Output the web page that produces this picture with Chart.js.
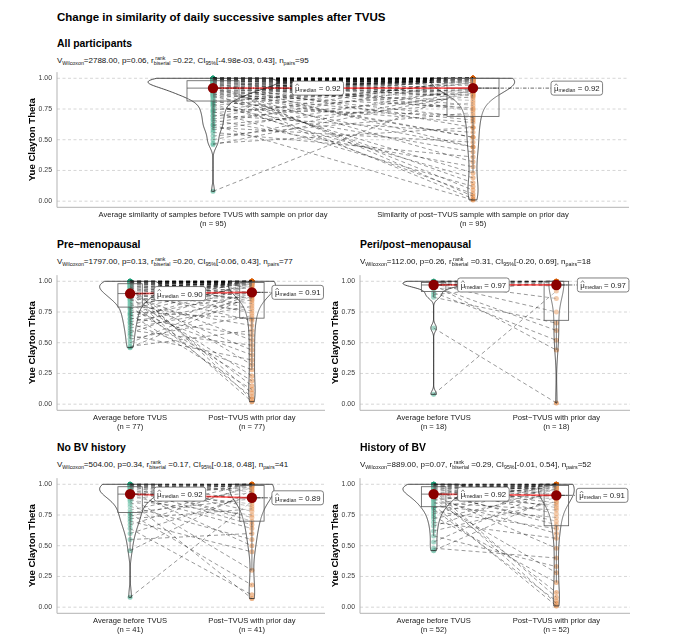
<!DOCTYPE html>
<html>
<head>
<meta charset="utf-8">
<script src="https://cdn.jsdelivr.net/npm/chart.js@4.4.0/dist/chart.umd.min.js"></script>
<style>
  body { margin: 0; background: #fff; width: 680px; height: 644px; position: relative; overflow: hidden;
         font-family: "Liberation Sans", Arial, sans-serif; }
  .t { position: absolute; white-space: nowrap; color: #000; line-height: 1.2; }
  .main { font-weight: bold; font-size: 11.5px; }
  .sub { font-weight: bold; font-size: 10.4px; }
  .stat { font-size: 8px; line-height: 10px; color: #111; }
  .stat sub { font-size: 5.3px; vertical-align: -2px; line-height: 0; }
  .stk { display: inline-block; vertical-align: -2px; font-size: 5.3px; line-height: 5.3px; }
  .stk span { display: block; }
  canvas { position: absolute; }
</style>
</head>
<body>
<div class="t main" style="left:57px;top:11px">Change in similarity of daily successive samples after TVUS</div>
<script>
// ---- data ----
const panelTitles = ["All participants", "Pre−menopausal", "Peri/post−menopausal", "No BV history", "History of BV"];
const catsShort = ["Average before TVUS", "Post−TVUS with prior day"];
const catsLong = ["Average similarity of samples before TVUS with sample on prior day",
                  "Similarity of post−TVUS sample with sample on prior day"];
const yTicks = [0, 0.25, 0.5, 0.75, 1];

const wilcoxonV = ["2788.00", "1797.00", "112.00", "504.00", "889.00"];
const pValues = ["0.06", "0.13", "0.26", "0.34", "0.07"];
const rValues = ["0.22", "0.20", "0.31", "0.17", "0.29"];
const ciText = ["[-4.98e-03, 0.43]", "[-0.06, 0.43]", "[-0.20, 0.69]", "[-0.18, 0.48]", "[-0.01, 0.54]"];

// pairs: before[i] goes with after[i]
const preBefore = [0.46,0.47,0.50,0.53,0.56,0.58,0.60,0.62,0.64,0.66,0.67,0.69,0.70,0.72,0.73,0.74,0.75,0.77,0.78,
  0.79,0.80,0.81,0.82,0.83,0.84,0.85,0.85,0.86,0.86,0.87,0.87,0.88,0.88,0.89,0.89,0.89,0.90,0.90,0.90,
  0.91,0.91,0.92,0.92,0.93,0.93,0.94,0.94,0.94,0.95,0.95,0.95,0.96,0.96,0.96,0.97,0.97,0.97,0.98,0.98,0.98,0.98,
  0.99,0.99,0.99,0.99,0.99,0.99,1.00,1.00,1.00,1.00,1.00,1.00,1.00,1.00,1.00,1.00];
const preAfter = [0.88,0.60,0.90,0.72,0.36,0.92,0.48,0.80,0.97,0.28,0.85,0.99,0.56,0.89,0.12,0.98,0.70,0.40,0.96,
  0.19,1.00,0.64,0.91,0.06,0.99,0.44,0.87,1.00,0.23,0.95,0.76,0.02,1.00,0.52,0.98,0.82,0.15,1.00,0.90,
  0.68,0.99,0.32,1.00,0.86,0.97,0.09,1.00,0.91,0.74,0.99,1.00,0.04,0.98,0.88,1.00,0.78,0.99,1.00,0.94,0.84,1.00,
  0.96,0.99,1.00,0.89,1.00,0.97,1.00,0.99,1.00,0.91,1.00,0.98,1.00,0.99,1.00,1.00];

const periBefore = [0.08,0.62,0.87,0.89,0.91,0.94,0.96,0.97,0.97,0.97,0.98,0.98,0.99,0.99,1.00,1.00,1.00,1.00];
const periAfter = [0.92,0.01,0.66,1.00,0.52,0.98,0.60,1.00,0.44,0.99,0.75,1.00,0.86,1.00,0.96,1.00,1.00,1.00];

const noBvBefore = [0.08,0.46,0.55,0.60,0.64,0.67,0.70,0.72,0.74,0.76,0.77,0.79,0.82,0.84,0.86,0.87,0.88,0.89,0.90,0.91,
  0.92,0.93,0.94,0.95,0.96,0.96,0.97,0.97,0.98,0.98,0.98,0.99,0.99,0.99,1.00,1.00,1.00,1.00,1.00,1.00,1.00];
const noBvAfter = [0.86,0.95,0.60,0.91,0.10,0.99,0.45,0.80,0.97,0.18,0.88,1.00,0.55,0.93,0.07,0.75,1.00,0.30,0.98,0.64,
  0.89,1.00,0.50,0.84,0.99,0.67,1.00,0.73,0.96,1.00,0.82,0.98,1.00,0.70,0.94,1.00,0.78,1.00,0.99,0.87,1.00];

const bvBefore = [0.46,0.48,0.53,0.58,0.62,0.66,0.69,0.72,0.74,0.76,0.78,0.80,0.81,0.82,0.83,0.84,0.85,0.86,0.87,0.88,
  0.88,0.89,0.90,0.90,0.91,0.92,0.92,0.93,0.93,0.94,0.94,0.95,0.95,0.96,0.96,0.97,0.97,0.97,0.98,0.98,0.98,
  0.99,0.99,0.99,1.00,1.00,1.00,1.00,1.00,1.00,1.00,1.00];
const bvAfter = [0.90,0.40,0.97,0.33,0.86,0.99,0.56,0.93,0.20,1.00,0.64,0.05,0.96,0.73,0.01,1.00,0.79,0.28,0.98,0.60,
  0.91,0.12,1.00,0.83,0.48,0.99,0.70,0.03,1.00,0.88,0.67,0.97,0.08,1.00,0.85,0.76,0.99,0.94,1.00,0.81,
  0.98,0.91,1.00,0.89,0.99,1.00,0.92,1.00,0.96,1.00,0.95,0.98];

// all participants = pre + peri
const allBefore = preBefore.concat(periBefore);
const allAfter = preAfter.concat(periAfter);

Chart.defaults.font.family = "'Liberation Sans', Arial, sans-serif";
const FONT = "'Liberation Sans', Arial, sans-serif";

function quantile(arr, p) {
  const s = arr.slice().sort((a, b) => a - b);
  const h = (s.length - 1) * p, lo = Math.floor(h);
  const hi = Math.min(lo + 1, s.length - 1);
  return s[lo] + (h - lo) * (s[hi] - s[lo]);
}

// gaussian kde, nrd0 bandwidth, trimmed to the data range (as geom_violin)
function density(vals) {
  const n = vals.length;
  const mean = vals.reduce((a, b) => a + b, 0) / n;
  const sd = Math.sqrt(vals.reduce((a, b) => a + (b - mean) * (b - mean), 0) / (n - 1));
  const iqr = quantile(vals, 0.75) - quantile(vals, 0.25);
  let lo = Math.min(sd, iqr / 1.34);
  if (!lo) lo = sd || 1;
  const bw = 0.9 * lo * Math.pow(n, -0.2);
  const mn = Math.min(...vals), mx = Math.max(...vals);
  const pts = [];
  for (let i = 0; i <= 200; i++) {
    const y = mn + (mx - mn) * i / 200;
    let d = 0;
    for (const v of vals) { const z = (y - v) / bw; d += Math.exp(-0.5 * z * z); }
    pts.push({ y: y, d: d / (n * bw * Math.sqrt(2 * Math.PI)) });
  }
  return pts;
}

function drawMedianLabel(ctx, px, py, lx, val) {
  const f1 = "7.8px " + FONT, f2 = "5.2px " + FONT;
  ctx.font = f1;
  const wMu = ctx.measureText("μ").width, wEq = ctx.measureText(" = " + val).width;
  ctx.font = f2;
  const wMed = ctx.measureText("median").width;
  const padX = 3, H = 14, W = wMu + wMed + wEq + padX * 2;

  ctx.save();
  ctx.setLineDash([3.5, 1.5, 1, 1.5]);
  ctx.strokeStyle = "rgba(0,0,0,0.85)";
  ctx.lineWidth = 0.7;
  ctx.beginPath(); ctx.moveTo(px, py); ctx.lineTo(lx, py); ctx.stroke();
  ctx.setLineDash([]);

  ctx.beginPath();
  ctx.roundRect(lx, py - H / 2, W, H, 2.5);
  ctx.fillStyle = "#fff"; ctx.fill();
  ctx.strokeStyle = "#555"; ctx.lineWidth = 0.75; ctx.stroke();

  let x = lx + padX;
  ctx.fillStyle = "#222"; ctx.textBaseline = "middle"; ctx.textAlign = "left";
  ctx.font = f1; ctx.fillText("μ", x, py + 1);
  ctx.beginPath();
  ctx.moveTo(x + 0.6, py - 2.3); ctx.lineTo(x + wMu / 2, py - 4.3); ctx.lineTo(x + wMu - 0.6, py - 2.3);
  ctx.strokeStyle = "#222"; ctx.lineWidth = 0.55; ctx.stroke();
  x += wMu;
  ctx.font = f2; ctx.fillText("median", x, py + 2.6);
  x += wMed;
  ctx.font = f1; ctx.fillText(" = " + val, x, py + 0.8);
  ctx.restore();
}

function makePlugin(p) {
  return {
    id: "withinstats",
    beforeDatasetsDraw(chart) {
      const { ctx, chartArea: a, scales: { y } } = chart;
      ctx.save();
      ctx.strokeStyle = "#cccccc"; ctx.lineWidth = 0.8; ctx.setLineDash([3, 2.5]);
      yTicks.forEach(v => {
        const py = y.getPixelForValue(v);
        ctx.beginPath(); ctx.moveTo(a.left, py); ctx.lineTo(a.right, py); ctx.stroke();
      });
      ctx.setLineDash([]);
      ctx.strokeStyle = "#b3b3b3"; ctx.lineWidth = 1;
      ctx.beginPath(); ctx.moveTo(a.left, a.top); ctx.lineTo(a.left, a.bottom); ctx.lineTo(a.right, a.bottom); ctx.stroke();
      ctx.restore();
    },
    afterDatasetDraw(chart, args) {
      if (args.index !== 2) return;
      const { ctx, scales: { x, y } } = chart;
      const groups = [p.before, p.after];
      const dens = groups.map(density);
      const maxD = Math.max(...dens[0].map(d => d.d), ...dens[1].map(d => d.d));
      ctx.save();
      groups.forEach((vals, g) => {
        const c = g + 1;
        // violin
        const pts = dens[g];
        ctx.beginPath();
        pts.forEach((d, i) => {
          const px = x.getPixelForValue(c - 0.25 * d.d / maxD), py = y.getPixelForValue(d.y);
          if (i) ctx.lineTo(px, py); else ctx.moveTo(px, py);
        });
        for (let i = pts.length - 1; i >= 0; i--) {
          ctx.lineTo(x.getPixelForValue(c + 0.25 * pts[i].d / maxD), y.getPixelForValue(pts[i].y));
        }
        ctx.closePath();
        ctx.fillStyle = "rgba(255,255,255,0.2)"; ctx.fill();
        ctx.strokeStyle = "#222"; ctx.lineWidth = 0.8; ctx.stroke();

        // box
        const q1 = quantile(vals, 0.25), q3 = quantile(vals, 0.75), med = quantile(vals, 0.5);
        const iqr = q3 - q1;
        const hiW = Math.max(...vals.filter(v => v <= q3 + 1.5 * iqr));
        const loW = Math.min(...vals.filter(v => v >= q1 - 1.5 * iqr));
        const xl = x.getPixelForValue(c - 0.1), xr = x.getPixelForValue(c + 0.1), xc = x.getPixelForValue(c);
        ctx.fillStyle = "rgba(255,255,255,0.2)";
        ctx.fillRect(xl, y.getPixelForValue(q3), xr - xl, y.getPixelForValue(q1) - y.getPixelForValue(q3));
        ctx.strokeStyle = "#5a5a5a"; ctx.lineWidth = 0.8;
        ctx.strokeRect(xl, y.getPixelForValue(q3), xr - xl, y.getPixelForValue(q1) - y.getPixelForValue(q3));
        ctx.beginPath();
        ctx.moveTo(xl, y.getPixelForValue(med)); ctx.lineTo(xr, y.getPixelForValue(med));
        ctx.moveTo(xc, y.getPixelForValue(q3)); ctx.lineTo(xc, y.getPixelForValue(hiW));
        ctx.moveTo(xc, y.getPixelForValue(q1)); ctx.lineTo(xc, y.getPixelForValue(loW));
        ctx.stroke();
      });
      ctx.restore();
    },
    afterDraw(chart) {
      const { ctx, scales: { x, y } } = chart;
      [p.before, p.after].forEach((vals, g) => {
        const m = quantile(vals, 0.5);
        const px = x.getPixelForValue(g + 1), py = y.getPixelForValue(m);
        drawMedianLabel(ctx, px + 5, py, px + p.labelDx[g], m.toFixed(2));
      });
    }
  };
}

function statsHtml(i, n) {
  return "V<sub>Wilcoxon</sub>=" + wilcoxonV[i] + ", p=" + pValues[i] +
    ", r<span class=\"stk\"><span>&nbsp;rank</span><span>biserial</span></span> =" + rValues[i] +
    ", CI<sub>95%</sub>" + ciText[i] + ", n<sub>pairs</sub>=" + n;
}

function addText(cls, html, left, top) {
  const d = document.createElement("div");
  d.className = "t " + cls;
  d.style.left = left + "px"; d.style.top = top + "px";
  d.innerHTML = html;
  document.body.appendChild(d);
}

// layout: plot area of each panel in page pixels
const panels = [
  { i: 0, before: allBefore, after: allAfter, cats: catsLong, L: 57, R: 629, T: 68.7, B: 207.3, titleY: 44, labelDx: [79, 78] },
  { i: 1, before: preBefore, after: preAfter, cats: catsShort, L: 57, R: 325, T: 271.7, B: 410.3, titleY: 245, labelDx: [24, 20] },
  { i: 2, before: periBefore, after: periAfter, cats: catsShort, L: 360, R: 630, T: 271.7, B: 410.3, titleY: 245, labelDx: [24, 21] },
  { i: 3, before: noBvBefore, after: noBvAfter, cats: catsShort, L: 57, R: 325, T: 474.7, B: 613.3, titleY: 448, labelDx: [24, 20] },
  { i: 4, before: bvBefore, after: bvAfter, cats: catsShort, L: 360, R: 630, T: 474.7, B: 613.3, titleY: 448, labelDx: [24, 20] }
];

panels.forEach(p => {
  const n = p.before.length;
  addText("sub", panelTitles[p.i], p.L, p.titleY - 6.5);
  addText("stat", statsHtml(p.i, n), p.L, p.titleY + 12);

  const cv = document.createElement("canvas");
  const left = p.L - 57, top = Math.round(p.T) - 6;
  const w = Math.round(p.R - left + 12), h = Math.round(p.B) + 28 - top;
  cv.style.left = left + "px"; cv.style.top = top + "px";
  cv.width = w; cv.height = h;
  document.body.appendChild(cv);

  const pairs = [];
  p.before.forEach((b, k) => {
    pairs.push({ x: 1, y: b }, { x: 2, y: p.after[k] }, { x: 2, y: null });
  });
  const mB = quantile(p.before, 0.5), mA = quantile(p.after, 0.5);

  new Chart(cv, {
    type: "scatter",
    data: {
      datasets: [
        { label: "before", data: p.before.map(v => ({ x: 1, y: v })), backgroundColor: "rgba(27,158,119,0.5)",
          borderWidth: 0, pointRadius: 2.5, order: 5 },
        { label: "after", data: p.after.map(v => ({ x: 2, y: v })), backgroundColor: "rgba(217,95,2,0.5)",
          borderWidth: 0, pointRadius: 2.5, order: 5 },
        { type: "line", label: "pairs", data: pairs, borderColor: "rgba(0,0,0,0.5)", borderWidth: 0.8,
          borderDash: [4, 3], pointRadius: 0, spanGaps: false, fill: false, order: 4 },
        { type: "line", label: "median path", data: [{ x: 1, y: mB }, { x: 2, y: mA }], borderColor: "rgba(255,0,0,0.6)",
          borderWidth: 1.8, pointRadius: 0, fill: false, order: 2 },
        { label: "median", data: [{ x: 1, y: mB }, { x: 2, y: mA }], backgroundColor: "#8b0000",
          borderWidth: 0, pointRadius: 5.2, order: 1 }
      ]
    },
    options: {
      responsive: false,
      animation: false,
      events: [],
      layout: { padding: { left: 0, top: p.T - top, right: 12, bottom: 0 } },
      plugins: { legend: { display: false }, tooltip: { enabled: false } },
      scales: {
        x: {
          type: "linear", min: 0.4, max: 2.6,
          afterBuildTicks: s => { s.ticks = [{ value: 1 }, { value: 2 }]; },
          afterFit: s => { s.height = top + h - p.B; },
          grid: { display: false, drawTicks: false }, border: { display: false },
          ticks: {
            padding: 3, autoSkip: false, maxRotation: 0, color: "#1a1a1a",
            font: { size: 7.6, lineHeight: 1.15 },
            callback: v => [p.cats[v - 1], "(n = " + n + ")"]
          }
        },
        y: {
          min: -0.05, max: 1.05,
          afterBuildTicks: s => { s.ticks = yTicks.map(v => ({ value: v })); },
          afterFit: s => { s.width = 57; },
          grid: { display: false, drawTicks: false }, border: { display: false },
          ticks: { padding: 5, color: "#3a3a3a", font: { size: 6.9 }, callback: v => v.toFixed(2) },
          title: { display: true, text: "Yue Clayton Theta", color: "#000",
                   font: { size: 9.6, weight: "bold" }, padding: { top: 26.5, bottom: 0 } }
        }
      }
    },
    plugins: [makePlugin(p)]
  });
});
</script>
</body>
</html>
